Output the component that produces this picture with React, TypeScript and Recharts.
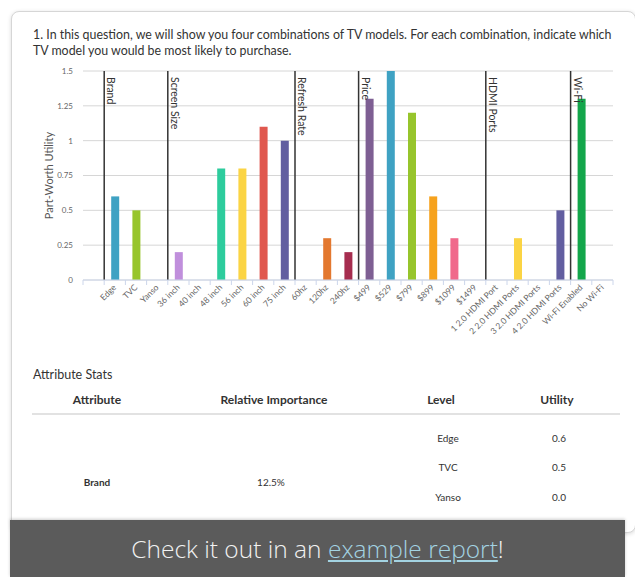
import React from 'react';
import { BarChart, Bar, XAxis, YAxis, CartesianGrid, ReferenceLine, Cell } from 'recharts';

const categories = [
  '', 'Edge', 'TVC', 'Yanso',
  '36 inch', '40 inch', '48 inch', '56 inch', '60 inch', '75 inch',
  '60hz', '120hz', '240hz',
  '$499', '$529', '$799', '$899', '$1099', '$1499',
  '1 2.0 HDMI Port', '2 2.0 HDMI Ports', '3 2.0 HDMI Ports', '4 2.0 HDMI Ports',
  'Wi-Fi Enabled', 'No Wi-Fi',
];
const utilities = [
  0, 0.6, 0.5, 0,
  0.2, 0, 0.8, 0.8, 1.1, 1.0,
  0, 0.3, 0.2,
  1.3, 1.5, 1.2, 0.6, 0.3, 0,
  0, 0.3, 0, 0.5,
  1.3, 0,
];
const barColors = [
  '#cccccc', '#3fa2c3', '#97c52c', '#cccccc',
  '#c08fdc', '#cccccc', '#2dcc9d', '#fbd444', '#e0584f', '#625ea0',
  '#cccccc', '#e3782f', '#a62d4f',
  '#7e5f93', '#3fa2c3', '#97c52c', '#f6a21d', '#f0698b', '#cccccc',
  '#cccccc', '#fbd444', '#cccccc', '#625ea0',
  '#13a64b', '#cccccc',
];
const groupNames = ['Brand', 'Screen Size', 'Refresh Rate', 'Price', 'HDMI Ports', 'Wi-Fi'];
const groupStarts = ['Edge', '36 inch', '60hz', '$499', '1 2.0 HDMI Port', 'Wi-Fi Enabled'];
const yTicks = [0, 0.25, 0.5, 0.75, 1, 1.25, 1.5];

const tableHeaders = ['Attribute', 'Relative Importance', 'Level', 'Utility'];
const tableAttribute = 'Brand';
const tableImportance = '12.5%';
const tableLevels = ['Edge', 'TVC', 'Yanso'];
const tableUtilities = ['0.6', '0.5', '0.0'];

const data = categories.map((name, i) => ({ name, value: utilities[i] }));

const FONT = 'Lato, "Noto Sans", sans-serif';
const PLOT_W = 530;
const SLOT = PLOT_W / categories.length;

const XTick = (props: any) => {
  const { x, y, payload, index } = props;
  const tx = x + 2;
  const ty = y + 8;
  return (
    <g>
      <line x1={x - SLOT / 2} x2={x - SLOT / 2} y1={y} y2={y + 5} stroke="#ccd6eb" />
      {index === categories.length - 1 && (
        <line x1={x + SLOT / 2} x2={x + SLOT / 2} y1={y} y2={y + 5} stroke="#ccd6eb" />
      )}
      <text
        x={tx}
        y={ty}
        transform={`rotate(-45 ${tx} ${ty})`}
        textAnchor="end"
        fontSize={8.5}
        fill="#666"
        fontFamily={FONT}
      >
        {payload.value}
      </text>
    </g>
  );
};

const groupLabel = (name: string) => (props: any) => {
  const vb = props.viewBox || {};
  const x = vb.x + 3;
  const y = vb.y + 6;
  return (
    <text x={x} y={y} transform={`rotate(90 ${x} ${y})`} fontSize={10.5} fill="#333" fontFamily={FONT}>
      {name}
    </text>
  );
};

const yTitle = (props: any) => {
  const vb = props.viewBox || {};
  const x = vb.x + 8;
  const y = vb.y + vb.height / 2;
  return (
    <text
      x={x}
      y={y}
      transform={`rotate(-90 ${x} ${y})`}
      textAnchor="middle"
      dominantBaseline="central"
      fontSize={11}
      fill="#555"
      fontFamily={FONT}
    >
      Part-Worth Utility
    </text>
  );
};

const TextAt = ({ cx, cy, children, bold, size = 10 }: any) => (
  <div
    style={{
      position: 'absolute',
      left: cx - 100,
      top: cy - 8,
      width: 200,
      lineHeight: '16px',
      textAlign: 'center',
      fontSize: size,
      fontWeight: bold ? 700 : 400,
      color: '#333',
      fontFamily: FONT,
    }}
  >
    {children}
  </div>
);

export default function App() {
  const headerX = [97, 274, 441, 557];
  const rowY = [438, 467, 497];
  return (
    <div style={{ position: 'absolute', left: 0, top: 0, width: 635, height: 577, overflow: 'hidden', background: '#fff' }}>
      <div
        style={{
          position: 'absolute',
          left: 11,
          top: 11,
          width: 623,
          height: 520,
          background: '#fff',
          border: '1px solid #d6d6d6',
          borderRadius: 8,
          boxShadow: '0 1px 4px rgba(0,0,0,0.15)',
        }}
      />
      <div
        style={{
          position: 'absolute',
          left: 33,
          top: 27,
          fontFamily: FONT,
          fontSize: 12.4,
          lineHeight: '16px',
          color: '#333',
          whiteSpace: 'nowrap',
        }}
      >
        1. In this question, we will show you four combinations of TV models. For each combination, indicate which
        <br />
        TV model you would be most likely to purchase.
      </div>

      <div style={{ position: 'absolute', left: 0, top: 60 }}>
        <BarChart width={635} height={290} data={data} margin={{ top: 11, right: 22, left: 40, bottom: 0 }}>
          <CartesianGrid vertical={false} stroke="#d6d6d6" />
          <XAxis
            dataKey="name"
            interval={0}
            height={70}
            tickSize={0}
            tickMargin={0}
            tickLine={false}
            axisLine={{ stroke: '#ccd6eb' }}
            tick={<XTick />}
          />
          <YAxis
            width={43}
            domain={[0, 1.5]}
            ticks={yTicks}
            axisLine={false}
            tickLine={false}
            tickMargin={4}
            tick={{ fontSize: 8, fill: '#666', fontFamily: FONT }}
            label={{ content: yTitle }}
          />
          {groupStarts.map((g, i) => (
            <ReferenceLine
              key={g}
              x={g}
              position="start"
              stroke="#333"
              strokeWidth={1.5}
              label={groupLabel(groupNames[i])}
            />
          ))}
          <Bar dataKey="value" barSize={8} isAnimationActive={false}>
            {data.map((d, i) => (
              <Cell key={i} fill={barColors[i]} />
            ))}
          </Bar>
        </BarChart>
      </div>

      <div style={{ position: 'absolute', left: 33, top: 367, fontFamily: FONT, fontSize: 12.5, lineHeight: '16px', color: '#333' }}>
        Attribute Stats
      </div>
      {tableHeaders.map((h, i) => (
        <TextAt key={h} cx={headerX[i]} cy={400} bold size={12}>
          {h}
        </TextAt>
      ))}
      <div style={{ position: 'absolute', left: 32, top: 413, width: 588, height: 2, background: '#e2e2e2' }} />
      <TextAt cx={97} cy={482} bold>
        {tableAttribute}
      </TextAt>
      <TextAt cx={271} cy={482}>
        {tableImportance}
      </TextAt>
      {tableLevels.map((l, i) => (
        <TextAt key={l} cx={448} cy={rowY[i]}>
          {l}
        </TextAt>
      ))}
      {tableUtilities.map((u, i) => (
        <TextAt key={i} cx={559} cy={rowY[i]}>
          {u}
        </TextAt>
      ))}

      <div
        style={{
          position: 'absolute',
          left: 10,
          top: 520,
          width: 615,
          height: 57,
          background: '#5b5b5b',
          boxShadow: '0 -1px 3px rgba(0,0,0,0.2)',
          textAlign: 'center',
          lineHeight: '57px',
          fontFamily: '"Open Sans", sans-serif',
          fontWeight: 300,
          fontSize: 24.5,
          color: '#f2f2f2',
        }}
      >
        Check it out in an <span style={{ color: '#a3d3e2', textDecoration: 'underline' }}>example report</span>!
      </div>
    </div>
  );
}
